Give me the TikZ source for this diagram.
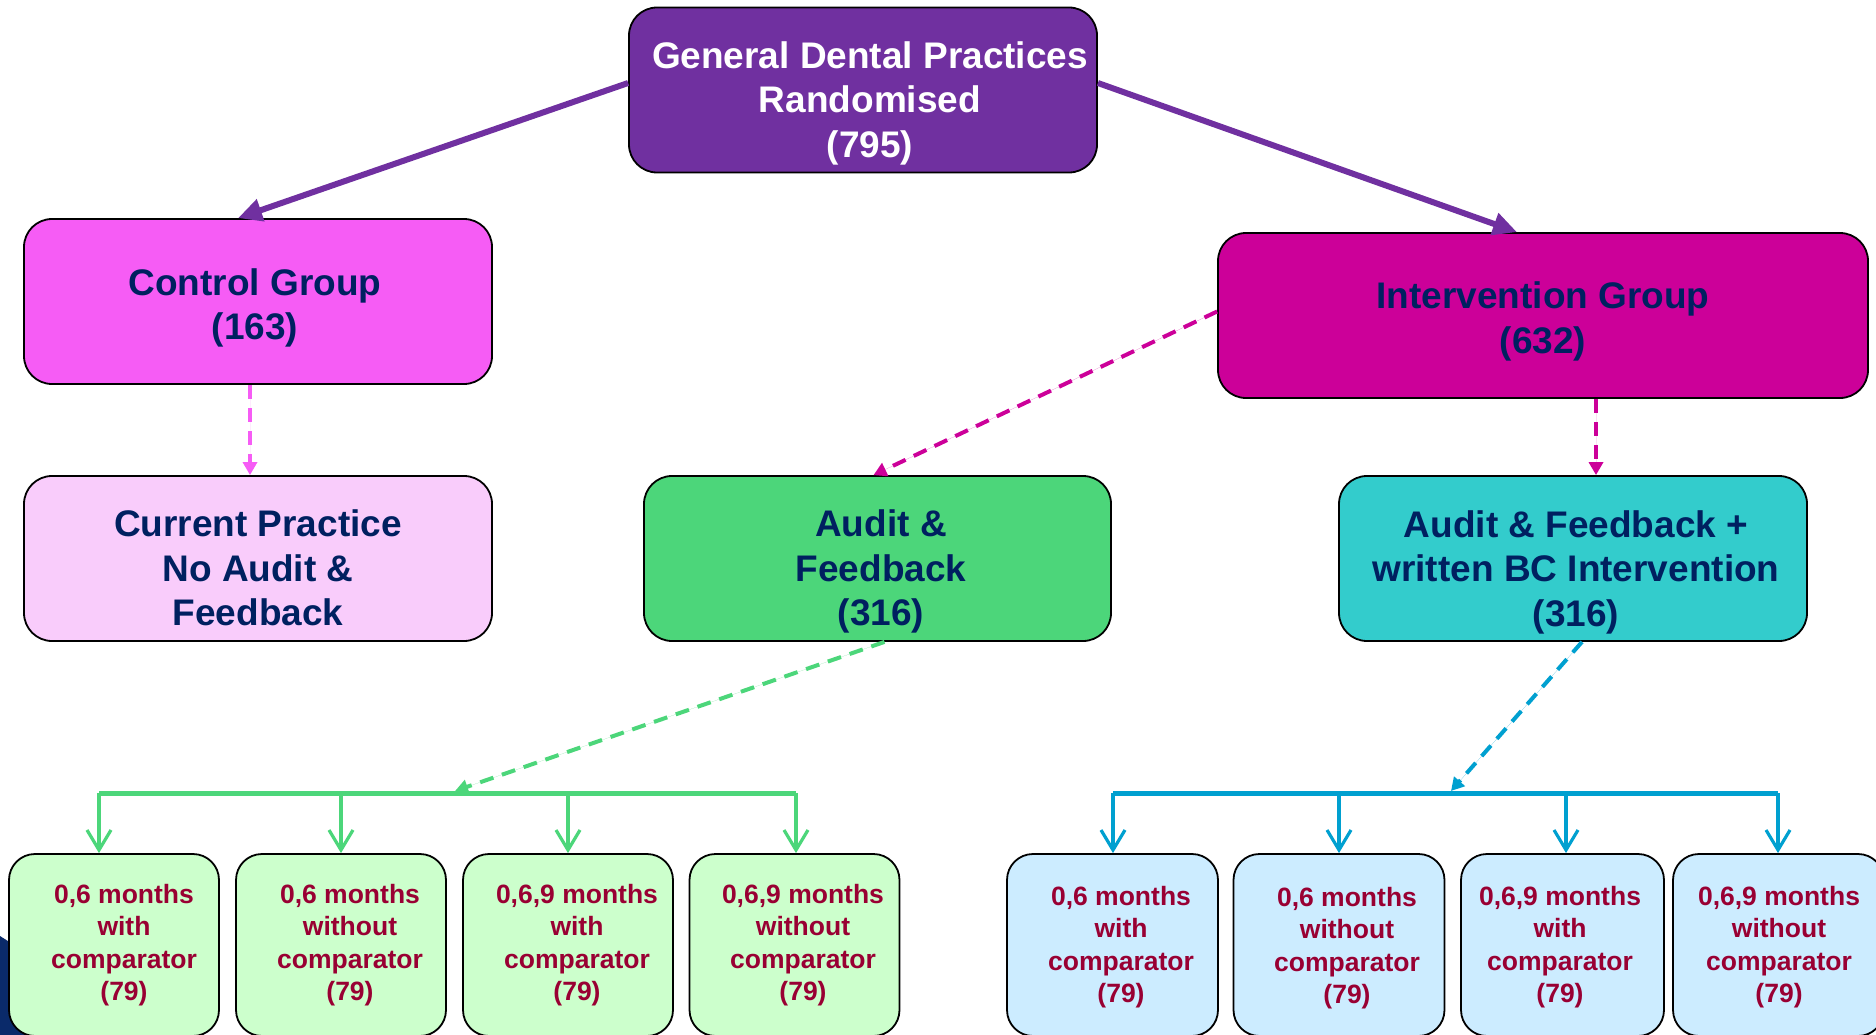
\documentclass[tikz,border=0pt]{standalone}
\usepackage{fontspec}
\setmainfont{Liberation Sans}
\usetikzlibrary{arrows.meta}
\definecolor{toppurple}{HTML}{7030A0}
\definecolor{ctrlpink}{HTML}{F65CF5}
\definecolor{curpink}{HTML}{F9CCFB}
\definecolor{intmag}{HTML}{CC0099}
\definecolor{afgreen}{HTML}{4CD67A}
\definecolor{afbccyan}{HTML}{33CCCC}
\definecolor{lgreen}{HTML}{CCFFCC}
\definecolor{lblue}{HTML}{CCECFF}
\definecolor{navytext}{HTML}{002060}
\definecolor{winetext}{HTML}{990033}
\definecolor{busblue}{HTML}{00A0D0}
\definecolor{bgnavy}{HTML}{0A2A6A}
\begin{document}
\begin{tikzpicture}[x=1pt,y=-1pt,
  box/.style={draw=black, line width=1.8pt, rounded corners=28pt, inner sep=0pt},
  bigbox/.style={box, minimum width=468pt, minimum height=165pt},
  smallbox/.style={box, rounded corners=26pt, minimum width=210pt, minimum height=182pt},
  bigtext/.style={font=\bfseries\fontsize{37}{44.5}\selectfont, align=center, text=navytext, inner sep=0pt},
  smalltext/.style={font=\bfseries\fontsize{26.5}{32.3}\selectfont, align=center, text=winetext, inner sep=0pt},
  mainarrow/.style={draw=toppurple, line width=6pt, -{Triangle[length=24pt,width=22pt]}},
  dasharrow/.style={line width=4pt, dash pattern=on 14pt off 9pt, -{Triangle[length=13pt,width=14pt]}},
  bus/.style={line width=5pt},
  drop/.style={line width=3.2pt, -{Straight Barb[length=20pt,width=24pt]}}
]
\useasboundingbox (0,0) rectangle (1876,1035);

% background fragment bottom-left
\fill[bgnavy] (0,936) -- (30,955) -- (60,1035) -- (0,1035) -- cycle;

% main boxes
\node[bigbox, fill=toppurple] (top) at (863,90) {};
\node[bigbox, fill=ctrlpink] (ctrl) at (258,301.5) {};
\node[bigbox, fill=curpink] (cur) at (258,558.5) {};
\node[bigbox, fill=afgreen, minimum width=467pt] (af) at (877.5,558.5) {};
\node[bigbox, fill=intmag, minimum width=650pt] (int) at (1543,315.5) {};
\node[bigbox, fill=afbccyan] (afbc) at (1573,558.5) {};

\node[bigtext, text=white] (topt) at (870,103) {General Dental Practices\\Randomised\\(795)};
\node[bigtext] (ctrlt) at (255,308) {Control Group\\(163)};
\node[bigtext] (curt) at (258,568) {Current Practice\\No Audit \&\\Feedback};
\node[bigtext] (aft) at (881,571.5) {Audit \&\\Feedback\\(316)};
\node[bigtext] (intt) at (1543,321.5) {Intervention Group\\(632)};
\node[bigtext] (afbct) at (1576,572) {Audit \& Feedback +\\written BC Intervention\\(316)};

% small boxes
\node[smallbox, fill=lgreen] (g1) at (114,945) {};
\node[smallbox, fill=lgreen] (g2) at (341,945) {};
\node[smallbox, fill=lgreen] (g3) at (568,945) {};
\node[smallbox, fill=lgreen] (g4) at (794.5,945) {};
\node[smallbox, fill=lblue, minimum width=211pt] (b1) at (1112.5,945) {};
\node[smallbox, fill=lblue, minimum width=211pt] (b2) at (1339,945) {};
\node[smallbox, fill=lblue, minimum width=203pt] (b3) at (1562.5,945) {};
\node[smallbox, fill=lblue, minimum width=211pt] (b4) at (1778.5,945) {};

\node[smalltext] (g1t) at (124,945) {0,6 months\\with\\comparator\\(79)};
\node[smalltext] (g2t) at (350,945) {0,6 months\\without\\comparator\\(79)};
\node[smalltext] (g3t) at (577,945) {0,6,9 months\\with\\comparator\\(79)};
\node[smalltext] (g4t) at (803,945) {0,6,9 months\\without\\comparator\\(79)};
\node[smalltext] (b1t) at (1121,947) {0,6 months\\with\\comparator\\(79)};
\node[smalltext] (b2t) at (1347,948) {0,6 months\\without\\comparator\\(79)};
\node[smalltext] (b3t) at (1560,947) {0,6,9 months\\with\\comparator\\(79)};
\node[smalltext] (b4t) at (1779,947) {0,6,9 months\\without\\comparator\\(79)};

% main arrows
\draw[mainarrow] ([yshift=7pt]top.west) -- ([xshift=-20pt]ctrl.north);
\draw[mainarrow] ([yshift=7pt]top.east) -- ([xshift=-26pt]int.north);

% dashed arrows
\draw[dasharrow, draw=ctrlpink, fill=ctrlpink] ([xshift=-8pt]ctrl.south) -- ([xshift=-8pt]cur.north);
\draw[dasharrow, draw=intmag, fill=intmag] ([yshift=4pt]int.west) -- ([xshift=-4pt]af.north);
\draw[dasharrow, draw=intmag, fill=intmag] ([xshift=53pt]int.south) -- ([xshift=23pt]afbc.north);

% green bus
\coordinate (gb1) at (99,793);
\coordinate (gb2) at (341,793);
\coordinate (gb3) at (568,793);
\coordinate (gb4) at (796,793);
\coordinate (gin) at (455,791);
\draw[bus, draw=afgreen] (gb1) -- (gb4);
\draw[drop, draw=afgreen] (gb1) -- (g1.north -| gb1);
\draw[drop, draw=afgreen] (gb2) -- (g2.north -| gb2);
\draw[drop, draw=afgreen] (gb3) -- (g3.north -| gb3);
\draw[drop, draw=afgreen] (gb4) -- (g4.north -| gb4);
\draw[dasharrow, draw=afgreen, fill=afgreen] ([xshift=7pt]af.south) -- (gin);

% blue bus
\coordinate (bb1) at (1113,793);
\coordinate (bb2) at (1339,793);
\coordinate (bb3) at (1566,793);
\coordinate (bb4) at (1778,793);
\coordinate (bin) at (1451,791);
\draw[bus, draw=busblue] (bb1) -- (bb4);
\draw[drop, draw=busblue] (bb1) -- (b1.north -| bb1);
\draw[drop, draw=busblue] (bb2) -- (b2.north -| bb2);
\draw[drop, draw=busblue] (bb3) -- (b3.north -| bb3);
\draw[drop, draw=busblue] (bb4) -- (b4.north -| bb4);
\draw[dasharrow, draw=busblue, fill=busblue] ([xshift=9pt]afbc.south) -- (bin);
\end{tikzpicture}
\end{document}
